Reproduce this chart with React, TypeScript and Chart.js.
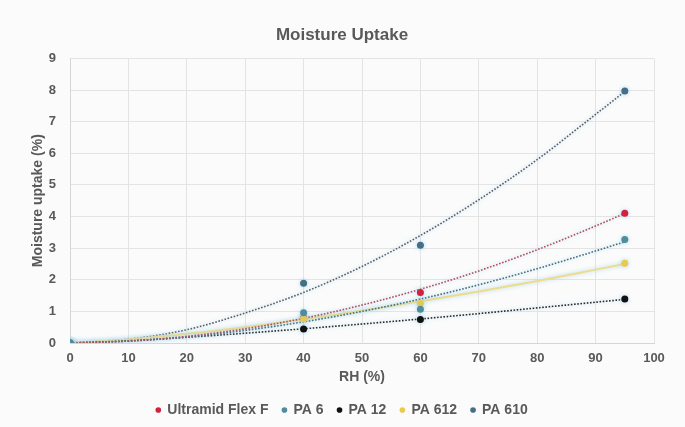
import React, { useEffect, useRef } from 'react';
import { Chart, registerables } from 'chart.js';

Chart.register(...registerables);

// Measured points (RH %, moisture uptake %)
const RH = [0, 40, 60, 95];
const ultramidFlexF = [0, 0.8, 1.6, 4.1];
const pa6 = [0, 0.96, 1.07, 3.27];
const pa12 = [0, 0.44, 0.74, 1.39];
const pa612 = [0, 0.77, 1.25, 2.52];
const pa610 = [0, 1.89, 3.09, 7.97];

// Trendlines
const trendRH = [0, 10, 20, 30, 40, 50, 60, 70, 80, 90, 95];
const ultramidTrend = [0, 0.06, 0.21, 0.45, 0.78, 1.2, 1.7, 2.28, 2.95, 3.7, 4.1];
const pa6Trend = [0, 0.06, 0.19, 0.4, 0.67, 1.0, 1.39, 1.84, 2.35, 2.91, 3.2];
const pa12Trend = [0, 0.07, 0.18, 0.31, 0.45, 0.6, 0.76, 0.93, 1.11, 1.29, 1.38];
const pa612Trend = [0, 0.11, 0.29, 0.5, 0.75, 1.02, 1.32, 1.63, 1.96, 2.32, 2.5];
const pa610Trend = [0, 0.12, 0.42, 0.95, 1.6, 2.42, 3.4, 4.53, 5.8, 7.23, 7.95];

const seriesNames = ['Ultramid Flex F', 'PA 6', 'PA 12', 'PA 612', 'PA 610'];
const pointSeries = [ultramidFlexF, pa6, pa12, pa612, pa610];
const trendSeries = [ultramidTrend, pa6Trend, pa12Trend, pa612Trend, pa610Trend];
const pointColors = ['#d3213b', '#4f8d9c', '#111111', '#ebc94a', '#456f86'];
const trendColors = ['#b0505e', '#3f7180', '#2a2a2a', '#eedc8a', '#5a5f66'];

const TEXT = '#595959';
const FONT = '"Liberation Sans", Arial, sans-serif';

const bgPlugin = {
  id: 'bg',
  beforeDraw(chart: any) {
    const { ctx, width, height } = chart;
    ctx.save();
    ctx.fillStyle = '#fbfbfb';
    ctx.fillRect(0, 0, width, height);
    ctx.restore();
  },
};

const glowPlugin = {
  id: 'glow',
  beforeDatasetDraw(chart: any) {
    const ctx = chart.ctx;
    ctx.save();
    ctx.shadowColor = 'rgba(150,205,235,0.75)';
    ctx.shadowBlur = 4;
  },
  afterDatasetDraw(chart: any) {
    chart.ctx.restore();
  },
};

export default function App() {
  const ref = useRef<HTMLCanvasElement | null>(null);

  useEffect(() => {
    document.body.style.margin = '0';
    if (!ref.current) return;

    const pointDatasets = seriesNames.map((name, i) => ({
      label: name,
      data: RH.map((x, j) => ({ x, y: pointSeries[i][j] })),
      showLine: false,
      pointRadius: 3.5,
      pointHoverRadius: 3.5,
      pointBackgroundColor: pointColors[i],
      pointBorderColor: pointColors[i],
      pointBorderWidth: 0,
      backgroundColor: pointColors[i],
      borderColor: pointColors[i],
      order: i === 0 ? 1 : 0,
    }));

    const trendDatasets = seriesNames.map((name, i) => ({
      label: name + ' trend',
      data: trendRH.map((x, j) => ({ x, y: trendSeries[i][j] })),
      showLine: true,
      pointRadius: 0,
      pointHoverRadius: 0,
      borderColor: trendColors[i],
      borderWidth: i === 3 ? 2 : 1.6,
      borderDash: i === 3 ? [] : [1.6, 1.6],
      cubicInterpolationMode: 'monotone' as const,
      fill: false,
      order: 2,
    }));

    const chart = new Chart(ref.current, {
      type: 'scatter',
      data: { datasets: [...pointDatasets, ...trendDatasets] as any },
      plugins: [bgPlugin, glowPlugin],
      options: {
        animation: false,
        responsive: false,
        maintainAspectRatio: false,
        layout: { padding: { left: 30, right: 31, top: 0, bottom: 0 } },
        plugins: {
          tooltip: { enabled: false },
          title: {
            display: true,
            text: 'Moisture Uptake',
            color: TEXT,
            font: { family: FONT, size: 17, weight: 'bold' },
            padding: { top: 25, bottom: 13 },
          },
          legend: {
            display: true,
            position: 'bottom',
            labels: {
              filter: (item: any) => item.datasetIndex < 5,
              sort: (a: any, b: any) => a.datasetIndex - b.datasetIndex,
              usePointStyle: true,
              pointStyle: 'circle',
              boxWidth: 4,
              boxHeight: 4,
              padding: 14,
              color: TEXT,
              font: { family: FONT, size: 14, weight: 'bold' },
            },
          },
        },
        scales: {
          x: {
            type: 'linear',
            min: 0,
            max: 100,
            afterFit: (scale: any) => {
              scale.height = 46;
            },
            ticks: {
              stepSize: 10,
              padding: 8,
              color: TEXT,
              font: { family: FONT, size: 13, weight: 'bold' },
            },
            grid: { color: '#e4e4e4', drawTicks: false },
            border: { color: '#d6d6d6' },
            title: {
              display: true,
              text: 'RH (%)',
              color: TEXT,
              font: { family: FONT, size: 14, weight: 'bold' },
              padding: { top: 2, bottom: 3 },
            },
          },
          y: {
            type: 'linear',
            min: 0,
            max: 9,
            afterFit: (scale: any) => {
              scale.width = 40;
            },
            ticks: {
              stepSize: 1,
              padding: 14,
              color: TEXT,
              font: { family: FONT, size: 13, weight: 'bold' },
            },
            grid: { color: '#e4e4e4', drawTicks: false },
            border: { color: '#d6d6d6' },
            title: {
              display: true,
              text: 'Moisture uptake (%)',
              color: TEXT,
              font: { family: FONT, size: 14, weight: 'bold' },
              padding: 0,
            },
          },
        },
      },
    });

    return () => chart.destroy();
  }, []);

  return (
    <div style={{ position: 'absolute', left: 0, top: 0, width: 685, height: 427 }}>
      <canvas ref={ref} width={685} height={427} style={{ display: 'block' }} />
    </div>
  );
}
